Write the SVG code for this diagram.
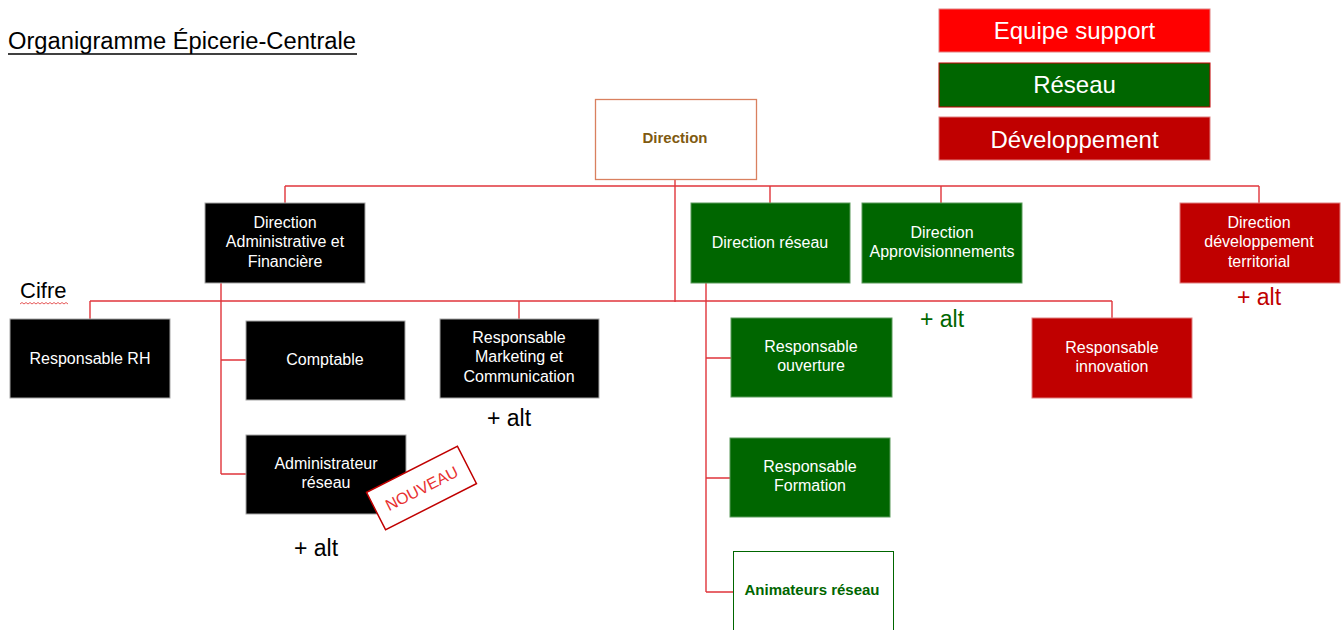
<svg xmlns="http://www.w3.org/2000/svg" width="1344" height="630" viewBox="0 0 1344 630">
<style>
text{font-family:"Liberation Sans",Arial,sans-serif;}
.nt{font-size:16px;fill:#ffffff;text-anchor:middle;}
.blk{fill:#000000;stroke:#a6a6a6;stroke-width:1;}
.grn{fill:#006600;stroke:#5a9a5a;stroke-width:1;}
.red{fill:#c00000;stroke:#e08080;stroke-width:1;}
.leg{font-size:24px;fill:#ffffff;text-anchor:middle;}
.alt{font-size:23px;}
.conn{stroke:#e0353b;stroke-width:1.4;fill:none;}
</style>
<rect width="1344" height="630" fill="#ffffff"/>

<g id="title">
<text x="8" y="49" font-size="23" fill="#000" textLength="348" lengthAdjust="spacingAndGlyphs">Organigramme Épicerie-Centrale</text>
<line x1="8" y1="54" x2="357" y2="54" stroke="#000" stroke-width="1.3"/>
</g>

<g id="legend">
<rect x="939" y="9" width="271" height="43" fill="#ff0000" stroke="#e08080" stroke-width="1"/>
<text class="leg" x="1074.5" y="39">Equipe support</text>
<rect x="939" y="63" width="271" height="44" fill="#006600" stroke="#c00000" stroke-width="1"/>
<text class="leg" x="1074.5" y="93">Réseau</text>
<rect x="939" y="117" width="271" height="43" fill="#c00000" stroke="#e08080" stroke-width="1"/>
<text class="leg" x="1074.5" y="148">Développement</text>
</g>

<g id="connectors">
<path class="conn" d="M675 180V302"/>
<path class="conn" d="M285 186H1259"/>
<path class="conn" d="M285 186V203M770 186V203M941 186V203M1259 186V203"/>
<path class="conn" d="M90 301H1112"/>
<path class="conn" d="M90 301V319M519 301V319M1112 301V318"/>
<path class="conn" d="M221 283V474M221 360H246M221 474H246"/>
<path class="conn" d="M706 283V592M706 358H731M706 478H730M706 592H733"/>
</g>

<g id="direction">
<rect x="595.5" y="99.5" width="161" height="80" fill="#ffffff" stroke="#d9805f" stroke-width="1.3"/>
<text x="675" y="143" font-size="15" font-weight="bold" fill="#7f5a10" text-anchor="middle">Direction</text>
</g>

<g id="dir-admin">
<rect class="blk" x="205" y="203" width="160" height="80"/>
<text class="nt" x="285" y="228">Direction</text>
<text class="nt" x="285" y="247">Administrative et</text>
<text class="nt" x="285" y="267">Financière</text>
</g>

<g id="dir-reseau">
<rect class="grn" x="691" y="203" width="159" height="80"/>
<text class="nt" x="770" y="248">Direction réseau</text>
</g>

<g id="dir-appro">
<rect class="grn" x="862" y="203" width="160" height="80"/>
<text class="nt" x="942" y="238">Direction</text>
<text class="nt" x="942" y="257">Approvisionnements</text>
</g>

<g id="dir-dev">
<rect class="red" x="1180" y="203" width="160" height="80"/>
<text class="nt" x="1259" y="228">Direction</text>
<text class="nt" x="1259" y="247">développement</text>
<text class="nt" x="1259" y="267">territorial</text>
</g>

<g id="cifre">
<text x="20" y="298" font-size="22" fill="#000">Cifre</text>
<path d="M20 304 l2 -1.5 l2 1.5 l2 -1.5 l2 1.5 l2 -1.5 l2 1.5 l2 -1.5 l2 1.5 l2 -1.5 l2 1.5 l2 -1.5 l2 1.5 l2 -1.5 l2 1.5 l2 -1.5 l2 1.5 l2 -1.5 l2 1.5 l2 -1.5 l2 1.5 l2 -1.5 l2 1.5 l2 -1.5 l2 1.5" fill="none" stroke="#e03030" stroke-width="0.8"/>
</g>

<g id="resp-rh">
<rect class="blk" x="10" y="319" width="160" height="79"/>
<text class="nt" x="90" y="364">Responsable RH</text>
</g>

<g id="comptable">
<rect class="blk" x="246" y="321" width="159" height="79"/>
<text class="nt" x="325" y="365">Comptable</text>
</g>

<g id="resp-marketing">
<rect class="blk" x="440" y="319" width="159" height="79"/>
<text class="nt" x="519" y="343">Responsable</text>
<text class="nt" x="519" y="362">Marketing et</text>
<text class="nt" x="519" y="382">Communication</text>
</g>
<text class="alt" x="487" y="426" fill="#000">+ alt</text>

<g id="admin-reseau">
<rect class="blk" x="246" y="435" width="160" height="79"/>
<text class="nt" x="326" y="469">Administrateur</text>
<text class="nt" x="326" y="488">réseau</text>
</g>
<text class="alt" x="294" y="556" fill="#000">+ alt</text>

<g id="nouveau" transform="translate(421.5 488) rotate(-27)">
<rect x="-51" y="-21" width="102" height="42" fill="#ffffff" stroke="#c00000" stroke-width="1.5"/>
<text x="0" y="6" font-size="16" fill="#e83030" text-anchor="middle">NOUVEAU</text>
</g>

<g id="resp-ouverture">
<rect class="grn" x="731" y="318" width="161" height="79"/>
<text class="nt" x="811" y="352">Responsable</text>
<text class="nt" x="811" y="371">ouverture</text>
</g>
<text class="alt" x="920" y="327" fill="#006600">+ alt</text>

<g id="resp-formation">
<rect class="grn" x="730" y="438" width="160" height="79"/>
<text class="nt" x="810" y="472">Responsable</text>
<text class="nt" x="810" y="491">Formation</text>
</g>

<g id="animateurs">
<rect x="733.5" y="551.5" width="160" height="90" fill="#ffffff" stroke="#006600" stroke-width="1"/>
<text x="812" y="595" font-size="15" font-weight="bold" fill="#006600" text-anchor="middle">Animateurs réseau</text>
</g>

<g id="resp-innovation">
<rect class="red" x="1032" y="318" width="160" height="80"/>
<text class="nt" x="1112" y="353">Responsable</text>
<text class="nt" x="1112" y="372">innovation</text>
</g>
<text class="alt" x="1237" y="305" fill="#c00000">+ alt</text>
</svg>
